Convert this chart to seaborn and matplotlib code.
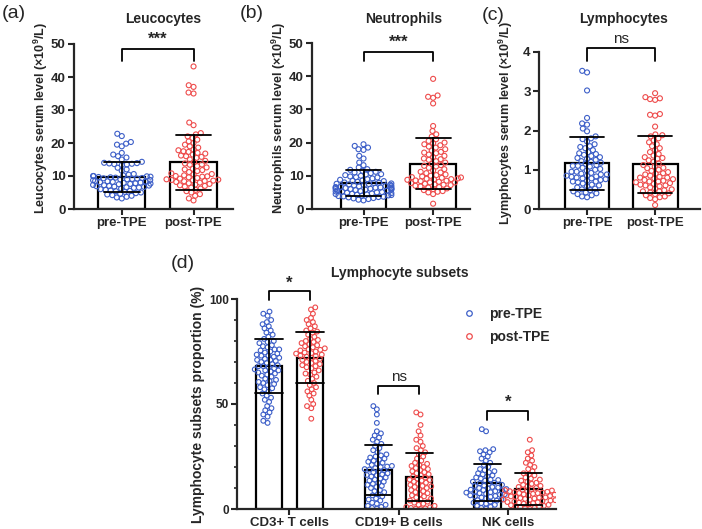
import matplotlib
matplotlib.use("Agg")
import matplotlib.pyplot as plt
from matplotlib.lines import Line2D
from matplotlib.ticker import MultipleLocator
import seaborn as sns
import pandas as pd

groups = ["pre-TPE", "post-TPE"]
subsets = ["CD3+ T cells", "CD19+ B cells", "NK cells"]

# (a) leucocytes, x10^9/L
leu_pre = [22.8, 22.1, 20.3, 19.8, 19.5, 19.0, 17.0, 16.5, 16.0, 15.6, 15.0,
           14.3, 14.0, 13.9, 13.8, 13.7, 13.6, 13.5, 13.3, 12.5, 12.0, 11.6,
           10.6, 10.4, 10.2, 10.0, 10.0, 9.9, 9.8, 9.7, 9.6, 9.5, 9.4, 9.3, 9.2, 9.1, 9.0, 9.0,
           8.8, 8.7, 8.5, 8.4, 8.3, 8.2, 8.0, 7.9, 7.8, 7.7, 7.6, 7.5,
           7.3, 7.2, 7.0, 6.9, 6.8, 6.7, 6.5, 6.4, 6.2, 6.0,
           5.8, 5.6, 5.4, 5.2, 5.0, 4.8, 4.6, 4.4, 4.0, 3.7, 3.5, 3.2,
           6.6, 7.1, 8.1, 5.5, 4.2]
leu_post = [43.2, 37.5, 37.0, 35.3, 35.0, 26.2, 25.4, 23.0, 22.6, 22.0,
            21.5, 21.0, 20.5, 20.0, 19.5, 19.0, 18.6, 18.0, 17.5, 17.3,
            17.0, 16.8, 16.5, 16.2, 15.8, 15.5, 15.0, 14.6, 14.2, 13.8,
            13.4, 13.0, 12.6, 12.2, 11.8, 11.5, 11.2, 10.8, 10.5, 10.2,
            10.0, 9.8, 9.6, 9.4, 9.2, 9.0, 8.9, 8.8, 8.7, 8.6,
            8.5, 8.4, 8.2, 8.0, 7.8, 7.6, 7.4, 7.2, 7.0, 6.8,
            6.5, 6.2, 5.8, 5.4, 5.0, 4.5, 4.0, 3.2, 2.6,
            13.5, 16.0, 17.8, 12.0, 10.6, 9.9]

# (b) neutrophils, x10^9/L
neu_pre = [19.5, 19.0, 18.5, 18.0, 17.8, 16.0, 15.2, 14.0, 13.2, 12.5,
           12.0, 11.8, 11.5, 11.2, 11.0, 10.8, 10.5, 10.2, 10.0, 9.8,
           9.5, 9.2, 9.0, 8.8, 8.6, 8.4, 8.2, 8.0, 7.9, 7.8,
           7.7, 7.6, 7.5, 7.4, 7.3, 7.2, 7.0, 6.9, 6.8, 6.7,
           6.6, 6.5, 6.4, 6.3, 6.2, 6.1, 6.0, 5.9, 5.8, 5.6,
           5.5, 5.4, 5.2, 5.0, 4.9, 4.8, 4.6, 4.5, 4.4, 4.2,
           4.0, 3.9, 3.8, 3.6, 3.5, 3.3, 3.0, 2.8, 2.6,
           8.5, 7.1, 6.4, 5.7, 9.6, 10.4, 3.2, 3.7, 4.1, 4.7, 5.3,
           4.3, 5.1, 5.9, 6.0, 6.5]
neu_post = [39.2, 34.2, 33.5, 33.8, 31.8, 25.0, 23.5, 22.5, 21.8, 21.0,
            20.5, 20.0, 19.5, 19.2, 18.8, 18.5, 18.0, 17.6, 17.2, 16.8,
            16.4, 16.0, 15.6, 15.2, 14.8, 14.4, 14.0, 13.6, 13.2, 12.8,
            12.4, 12.0, 11.6, 11.2, 10.8, 10.4, 10.0, 9.8, 9.6, 9.4,
            9.2, 9.0, 8.8, 8.6, 8.4, 8.2, 8.0, 7.8, 7.6, 7.4,
            7.2, 7.0, 6.8, 6.5, 6.2, 6.0, 5.7, 5.4, 5.0, 4.5, 1.6,
            15.0, 13.0, 11.0, 9.5, 8.9, 17.0, 19.8,
            8.0, 8.5, 9.1, 7.3, 6.6, 5.2, 10.2]

# (c) lymphocytes, x10^9/L
lym_pre = [3.52, 3.48, 3.02, 2.32, 2.18, 2.15, 2.05, 1.98, 1.85, 1.80,
           1.78, 1.72, 1.65, 1.58, 1.55, 1.50, 1.45, 1.42, 1.38, 1.35,
           1.32, 1.28, 1.25, 1.22, 1.20, 1.18, 1.15, 1.12, 1.10, 1.08,
           1.05, 1.02, 1.00, 0.98, 0.95, 0.92, 0.90, 0.88, 0.85, 0.83,
           0.82, 0.80, 0.78, 0.76, 0.74, 0.72, 0.70, 0.68, 0.65, 0.62,
           0.60, 0.58, 0.55, 0.52, 0.50, 0.48, 0.45, 0.42, 0.40, 0.38,
           0.35, 0.32, 0.30, 1.40, 1.10, 0.95, 0.85, 0.70, 1.60, 1.30, 0.88, 0.78]
lym_post = [2.95, 2.85, 2.82, 2.80, 2.78, 2.42, 2.40, 2.38, 2.10, 1.90,
            1.88, 1.85, 1.80, 1.75, 1.70, 1.65, 1.60, 1.55, 1.50, 1.45,
            1.40, 1.36, 1.32, 1.28, 1.24, 1.20, 1.16, 1.12, 1.08, 1.04,
            1.00, 0.97, 0.94, 0.91, 0.88, 0.85, 0.82, 0.80, 0.78, 0.76,
            0.74, 0.72, 0.70, 0.68, 0.66, 0.64, 0.62, 0.60, 0.58, 0.55,
            0.52, 0.50, 0.48, 0.45, 0.42, 0.40, 0.38, 0.35, 0.32, 0.30,
            0.28, 0.25, 0.10, 0.90, 0.80, 1.05, 1.30, 0.60, 0.70, 0.45]

# (d) lymphocyte subsets, %
cd3_pre = [94, 93, 92, 90, 89, 88, 87, 86, 85, 84, 83, 82, 81, 80, 79.5,
           79, 78, 77.5, 77, 76, 75.5, 75, 74.5, 74, 73.5, 73, 72.5, 72, 71.5, 71,
           70.5, 70, 69.5, 69, 68.5, 68, 67.5, 67, 66.5, 66, 65.5, 65, 64, 63.5, 63,
           62, 61.5, 61, 60, 59.5, 59, 58, 57.5, 57, 56, 55, 54, 53, 52, 51,
           49, 48, 47, 46, 45, 44, 42, 41, 76, 71, 68, 64.5, 60.5, 73, 66]
cd3_post = [96, 95, 93, 91, 90, 89, 88, 87, 86, 85, 84.5, 84, 83, 82, 81,
            80, 79.5, 79, 78, 77.5, 77, 76.5, 76, 75.5, 75, 74.5, 74, 73.5, 73, 72.5,
            72, 71.5, 71, 70, 69.5, 69, 68, 67.5, 67, 66, 65, 64.5, 64, 63, 62,
            61, 60, 59, 58, 57, 56, 55, 54, 52, 50, 49, 48, 43,
            75.8, 74.2, 72.8, 70.5, 68.5, 78.5, 80.5]
cd19_pre = [49, 47.5, 45, 41, 37, 36, 35, 34, 33, 32, 31, 30, 29, 28, 27,
            26, 25.5, 25, 24, 23.5, 23, 22, 21.5, 21, 20.5, 20, 19.5, 19, 18.5, 18,
            17.5, 17, 16.5, 16, 15.5, 15, 14.5, 14, 13, 12.5, 12, 11, 10.5, 10, 9,
            8.5, 8, 7, 6.5, 6, 5, 4.5, 4, 3, 2.5, 2, 1.5, 1, 0.5, 0.2,
            22.5, 18.8, 16.2, 13.5, 11.5, 24.5, 20.2]
cd19_post = [46, 45, 40, 37, 35, 33, 32, 30, 29, 28, 27, 26, 25, 24, 23,
             22, 21, 20.5, 20, 19.5, 19, 18.5, 18, 17, 16.5, 16, 15.5, 15, 14.5, 14,
             13.5, 13, 12.5, 12, 11.5, 11, 10.5, 10, 9.5, 9, 8.5, 8, 7, 6.5, 6,
             5.5, 5, 4.5, 4, 3.5, 3, 2.5, 2, 1.5, 1, 0.8, 0.5, 0.3, 0.1, 0.0,
             17.5, 13.8, 10.8, 21.5, 7.5]
nk_pre = [38, 37, 28.5, 28, 27.5, 27, 26, 25, 24, 23, 22, 21, 20, 19, 18,
          17.5, 17, 16, 15.5, 15, 14.5, 14, 13.5, 13, 12.5, 12, 11.5, 11, 10.5, 10,
          9.8, 9.5, 9.2, 9, 8.8, 8.5, 8.2, 8, 7.8, 7.5, 7.2, 7, 6.8, 6.5, 6.2,
          6, 5.8, 5.5, 5, 4.5, 4, 3.5, 3, 2.5, 2, 1.5, 1, 0.5, 0.2,
          10.2, 16.5, 18.5, 11.2, 12.2, 4.2, 2.8, 13.8]
nk_post = [33, 28, 27, 25.5, 24, 23, 22, 21, 20, 19, 18, 17, 16.5, 16, 15,
           14.5, 14, 13.5, 13, 12.5, 12, 11.5, 11, 10.5, 10, 9.5, 9, 8.8, 8.5, 8.2,
           8, 7.8, 7.5, 7.2, 7, 6.8, 6.5, 6.2, 6, 5.8, 5.5, 5.2, 5, 4.8, 4.5,
           4.2, 4, 3.8, 3.5, 3.2, 3, 2.8, 2.5, 2.2, 2, 1.8, 1.5, 1.2, 1, 0.8,
           0.5, 0.3, 0.1, 9.2, 7.6, 6.4, 5.4, 4.4, 3.3, 8.6, 10.8]

blue = "#3d5fc8"
red = "#ee4c4c"

sns.set_style("ticks")
plt.rcParams["font.family"] = ["Liberation Sans", "DejaVu Sans"]
plt.rcParams["font.weight"] = "bold"
plt.rcParams["axes.labelweight"] = "bold"
plt.rcParams["mathtext.fontset"] = "custom"
plt.rcParams["mathtext.rm"] = "Liberation Sans:bold"
plt.rcParams["mathtext.it"] = "Liberation Sans:bold"
plt.rcParams["mathtext.bf"] = "Liberation Sans:bold"

W, H = 702, 529
fig = plt.figure(figsize=(W / 100, H / 100), dpi=100)


def px_axes(x0, x1, y_top, y_bot):
    return fig.add_axes([x0 / W, 1 - y_bot / H, (x1 - x0) / W, (y_bot - y_top) / H])


def finish(ax, fs):
    # hollow circles, error bars drawn over the points
    for coll in ax.collections:
        coll.set_edgecolors(coll.get_facecolors())
        coll.set_facecolor("none")
        coll.set_linewidth(0.8)
        coll.set_zorder(2)
    for p in ax.patches:
        p.set_zorder(1)
    for line in ax.lines:
        line.set_zorder(3)
    sns.despine(ax=ax)
    for s in ["left", "bottom"]:
        ax.spines[s].set_linewidth(1.6)
    ax.tick_params(width=1.5, length=4, labelsize=fs, pad=2)
    ax.set_xlabel("")


def bracket(ax, x1, x2, y, drop, label, fs, gap, weight="bold"):
    ax.plot([x1, x1, x2, x2], [y - drop, y, y, y - drop], color="black", lw=1.3,
            clip_on=False, zorder=4)
    ax.text((x1 + x2) / 2, y + gap, label, ha="center", va="bottom", fontsize=fs,
            fontweight=weight, clip_on=False)


def top_panel(ax, pre, post, ymax, step, ylabel, sig, ytop, drop, gap, xlim):
    df = pd.DataFrame({"group": [groups[0]] * len(pre) + [groups[1]] * len(post),
                       "value": pre + post})
    sns.barplot(data=df, x="group", y="value", order=groups, errorbar="sd",
                capsize=0.5, width=0.66, color="white", edgecolor="black",
                linewidth=1.6, err_kws={"color": "black", "linewidth": 1.3}, ax=ax)
    sns.swarmplot(data=df, x="group", y="value", hue="group", order=groups,
                  hue_order=groups, palette=[blue, red], size=2.7, legend=False, ax=ax)
    finish(ax, 9.5)
    ax.set_ylim(0, ymax)
    ax.set_yticks([step * i for i in range(int(round(ymax / step)) + 1)])
    ax.set_xlim(*xlim)
    ax.set_ylabel(ylabel, fontsize=9)
    ax.yaxis.set_label_coords(-0.15, 0.55)
    if sig == "ns":
        bracket(ax, 0, 1, ytop, drop, sig, 11, gap, weight="normal")
    else:
        bracket(ax, 0, 1, ytop, drop, sig, 12, gap)


ax_a = px_axes(74, 233, 44, 209)
top_panel(ax_a, leu_pre, leu_post, 50, 10, "Leucocytes serum level (×10$^9$/L)",
          "***", 48.5, 3.5, 0.8, (-0.666, 1.55))
ax_b = px_axes(312, 470, 43, 209)
top_panel(ax_b, neu_pre, neu_post, 50, 10, "Neutrophils serum level (×10$^9$/L)",
          "***", 47.3, 2.8, 0.8, (-0.74, 1.53))
ax_c = px_axes(539, 700, 52, 209)
top_panel(ax_c, lym_pre, lym_post, 4, 1, "Lymphocytes serum level (×10$^9$/L)",
          "ns", 4.1, 0.33, 0.05, (-0.706, 1.66))

# (d) lymphocyte subsets
rows = []
for name, pre, post in [(subsets[0], cd3_pre, cd3_post),
                        (subsets[1], cd19_pre, cd19_post),
                        (subsets[2], nk_pre, nk_post)]:
    rows += [(name, groups[0], v) for v in pre]
    rows += [(name, groups[1], v) for v in post]
df_d = pd.DataFrame(rows, columns=["subset", "phase", "value"])

ax_d = px_axes(237, 556, 299, 509)
sns.barplot(data=df_d, x="subset", y="value", hue="phase", order=subsets,
            hue_order=groups, palette=["white", "white"], errorbar="sd", capsize=0.5,
            width=0.75, gap=0.35, edgecolor="black", linewidth=1.6,
            err_kws={"color": "black", "linewidth": 1.3}, legend=False, ax=ax_d)
sns.swarmplot(data=df_d, x="subset", y="value", hue="phase", order=subsets,
              hue_order=groups, palette=[blue, red], dodge=True,
              size=2.5, legend=False, ax=ax_d)
finish(ax_d, 9.5)
ax_d.tick_params(axis="y", labelsize=8.5)
ax_d.set_ylim(0, 100)
ax_d.set_yticks([0, 50, 100])
ax_d.yaxis.set_minor_locator(MultipleLocator(10))
ax_d.tick_params(which="minor", width=1.2, length=2.5)
ax_d.set_xlim(-0.48, 2.44)
ax_d.set_ylabel("Lymphocyte subsets proportion (%)", fontsize=10)
ax_d.yaxis.set_label_coords(-0.10, 0.5)
off = 0.1875
bracket(ax_d, 0 - off, 0 + off, 103.8, 4.3, "*", 12, 0.3)
bracket(ax_d, 1 - off, 1 + off, 58.7, 3.9, "ns", 11, 1.0, weight="normal")
bracket(ax_d, 2 - off, 2 + off, 46.8, 4.4, "*", 12, 0.3)

handles = [Line2D([], [], ls="", marker="o", ms=4, mfc="none", mec=blue, mew=0.9),
           Line2D([], [], ls="", marker="o", ms=4, mfc="none", mec=red, mew=0.9)]
ax_d.legend(handles, groups, loc="upper left", bbox_to_anchor=(461 / W, 1 - 307 / H),
            bbox_transform=fig.transFigure, frameon=False, fontsize=10,
            handlelength=1.2, handletextpad=0.8, labelspacing=0.65,
            borderpad=0, borderaxespad=0)

# titles and panel letters
fig.text(163 / W, 1 - 19 / H, "Leucocytes", ha="center", va="center", fontsize=10)
fig.text(404 / W, 1 - 19 / H, "Neutrophils", ha="center", va="center", fontsize=10)
fig.text(624 / W, 1 - 19 / H, "Lymphocytes", ha="center", va="center", fontsize=10)
fig.text(400 / W, 1 - 273 / H, "Lymphocyte subsets", ha="center", va="center", fontsize=10)
for lab, x, y in [("(a)", 2, 14), ("(b)", 240, 14), ("(c)", 482, 15), ("(d)", 171, 264)]:
    fig.text(x / W, 1 - y / H, lab, ha="left", va="center", fontsize=14,
             fontweight="normal")

# lay the swarms out once with the small spacing, then freeze them and
# draw the circles a little larger so they overlap like the original
fig.canvas.draw()
for ax, marker in [(ax_a, 3.6), (ax_b, 3.6), (ax_c, 3.6), (ax_d, 3.4)]:
    for coll in ax.collections:
        if "draw" in vars(coll):
            del coll.draw
        coll.set_sizes([marker ** 2])

fig.savefig("out.png", dpi=100)
